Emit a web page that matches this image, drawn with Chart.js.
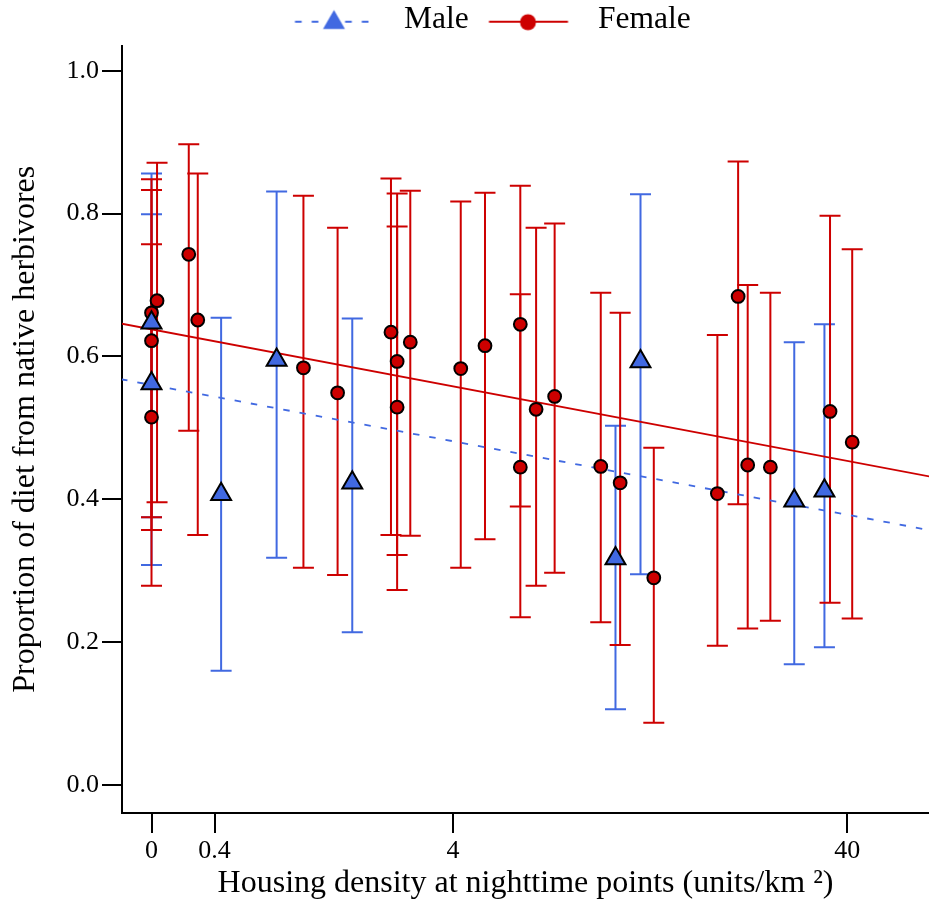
<!DOCTYPE html>
<html>
<head>
<meta charset="utf-8">
<script src="https://cdn.jsdelivr.net/npm/chart.js@4.4.1/dist/chart.umd.min.js"></script>
<style>
  html, body { margin: 0; padding: 0; background: #fff; }
</style>
</head>
<body>
<canvas id="chart" width="929" height="903"></canvas>
<script>
// ====================================================== DATA ====================================================== //

// housing density (units/km2), mean proportion and interval ends
const femaleDensity = [0, 0, 0, 0.03, 0.22, 0.28, 1.25, 1.70, 2.59, 2.71, 2.71, 2.98, 4.21, 4.93,
                       6.16, 6.16, 6.79, 7.60, 10.0, 11.2, 13.6, 19.5, 21.9, 23.1, 26.2, 36.4, 41.1];
const femaleMean    = [0.661, 0.622, 0.515, 0.678, 0.743, 0.651, 0.584, 0.549, 0.634, 0.593, 0.529, 0.620, 0.583, 0.615,
                       0.645, 0.445, 0.526, 0.544, 0.446, 0.423, 0.290, 0.408, 0.684, 0.448, 0.445, 0.523, 0.480];
const femaleLow     = [0.375, 0.357, 0.279, 0.396, 0.496, 0.350, 0.304, 0.294, 0.350, 0.322, 0.273, 0.349, 0.304, 0.344,
                       0.390, 0.235, 0.279, 0.297, 0.228, 0.196, 0.087, 0.195, 0.393, 0.219, 0.230, 0.255, 0.233];
const femaleHigh    = [0.848, 0.833, 0.757, 0.871, 0.897, 0.856, 0.825, 0.780, 0.849, 0.828, 0.782, 0.832, 0.817, 0.829,
                       0.839, 0.687, 0.780, 0.786, 0.689, 0.661, 0.472, 0.630, 0.873, 0.700, 0.689, 0.797, 0.750];

const maleDensity = [0, 0, 0.45, 0.95, 1.92, 10.9, 12.6, 29.9, 35.3];
const maleMean    = [0.647, 0.562, 0.407, 0.595, 0.423, 0.317, 0.593, 0.398, 0.412];
const maleLow     = [0.375, 0.308, 0.160, 0.318, 0.214, 0.106, 0.295, 0.169, 0.193];
const maleHigh    = [0.856, 0.799, 0.654, 0.831, 0.653, 0.503, 0.827, 0.620, 0.645];

// fitted lines, end points (density, proportion)
const femaleFitDensity = [-0.15, 65];
const femaleFitValue   = [0.646, 0.430];
const maleFitDensity   = [-0.15, 65];
const maleFitValue     = [0.568, 0.355];

const xTickValues = [0, 0.4, 4, 40];
const yTickValues = [0, 0.2, 0.4, 0.6, 0.8, 1.0];

// ===================================================== STYLE ====================================================== //

const red = '#CD0000', blue = '#4169E1';
const pos = d => Math.log10(d + 1);          // axis is log10(density + 1)
const pts = (xs, ys) => xs.map((d, i) => ({x: pos(d), y: ys[i]}));

Chart.defaults.font.family = "'Liberation Serif', 'Times New Roman', serif";
Chart.defaults.color = '#000';

// legend symbols: line with marker
function legendIcon(draw) {
  const c = document.createElement('canvas');
  c.width = 110; c.height = 30;
  draw(c.getContext('2d'));
  return c;
}
const maleIcon = legendIcon(g => {
  g.strokeStyle = blue; g.lineWidth = 2; g.setLineDash([6.7, 10]);
  g.beginPath(); g.moveTo(16.5, 17); g.lineTo(90, 17); g.stroke();
  const r = 12.7, cx = 55.5, cy = 18;
  g.fillStyle = blue;
  g.beginPath();
  g.moveTo(cx, cy - r);
  g.lineTo(cx + r * Math.sqrt(3) / 2, cy + r / 2);
  g.lineTo(cx - r * Math.sqrt(3) / 2, cy + r / 2);
  g.closePath(); g.fill();
});
const femaleIcon = legendIcon(g => {
  g.strokeStyle = red; g.lineWidth = 2;
  g.beginPath(); g.moveTo(16.5, 17); g.lineTo(95.5, 17); g.stroke();
  g.fillStyle = red;
  g.beginPath(); g.arc(55.5, 17.5, 8, 0, Math.PI * 2); g.fill();
});

// error bars drawn under the markers through the chart scales
const errorGroups = [
  {color: blue, density: maleDensity,   low: maleLow,   high: maleHigh},
  {color: red,  density: femaleDensity, low: femaleLow, high: femaleHigh}
];
const errorBars = {
  id: 'errorBars',
  beforeDatasetsDraw(chart) {
    const {ctx, scales: {x, y}} = chart, cap = 10.5;
    ctx.save();
    ctx.lineWidth = 2;
    errorGroups.forEach(g => {
      ctx.strokeStyle = g.color;
      g.density.forEach((d, i) => {
        const px = x.getPixelForValue(pos(d)),
              lo = y.getPixelForValue(g.low[i]),
              hi = y.getPixelForValue(g.high[i]);
        ctx.beginPath();
        ctx.moveTo(px, lo); ctx.lineTo(px, hi);
        ctx.moveTo(px - cap, lo); ctx.lineTo(px + cap, lo);
        ctx.moveTo(px - cap, hi); ctx.lineTo(px + cap, hi);
        ctx.stroke();
      });
    });
    ctx.restore();
  }
};

// ===================================================== CHART ====================================================== //

const axisLine = {display: true, color: '#000', width: 2};
const tickMarks = {drawOnChartArea: false, drawTicks: true, tickLength: 20, tickColor: '#000', tickWidth: 2, color: '#000', lineWidth: 2};
const padLeft = 40.4;

new Chart(document.getElementById('chart'), {
  type: 'scatter',
  data: {
    datasets: [
      {label: 'Male', data: pts(maleDensity, maleMean), pointStyle: 'triangle', pointRadius: 11.5,
       backgroundColor: blue, borderColor: '#000', borderWidth: 2, order: 0},
      {label: 'Female', data: pts(femaleDensity, femaleMean), pointStyle: 'circle', pointRadius: 6.4,
       backgroundColor: red, borderColor: '#000', borderWidth: 2, order: 1},
      {label: 'Male fit', data: pts(maleFitDensity, maleFitValue), showLine: true, pointRadius: 0,
       borderColor: blue, borderWidth: 1.8, borderDash: [6.5, 10], order: 2},
      {label: 'Female fit', data: pts(femaleFitDensity, femaleFitValue), showLine: true, pointRadius: 0,
       borderColor: red, borderWidth: 1.8, order: 2}
    ]
  },
  options: {
    responsive: false,
    animation: false,
    events: [],
    layout: {autoPadding: false, padding: {left: padLeft, top: 0, right: 0, bottom: 0}},
    plugins: {
      tooltip: {enabled: false},
      legend: {
        position: 'top',
        labels: {
          usePointStyle: true,
          pointStyleWidth: 109.5,
          padding: 4,
          font: {size: 31.5},
          color: '#000',
          generateLabels: () => [
            {text: 'Male',   pointStyle: maleIcon,   hidden: false, lineWidth: 0, fontColor: '#000', datasetIndex: 0},
            {text: 'Female', pointStyle: femaleIcon, hidden: false, lineWidth: 0, fontColor: '#000', datasetIndex: 1}
          ]
        }
      }
    },
    scales: {
      x: {
        type: 'linear',
        min: -0.0684,
        max: 1.8023,
        afterBuildTicks: s => { s.ticks = xTickValues.map(v => ({value: pos(v)})); },
        afterFit: s => { s.height = 90; s.paddingLeft = 0; s.paddingRight = 0; },
        ticks: {autoSkip: false, maxRotation: 0, padding: 3, font: {size: 26},
                callback: (v, i) => String(xTickValues[i])},
        grid: tickMarks,
        border: axisLine,
        title: {display: true, text: 'Housing density at nighttime points (units/km ²)',
                font: {size: 32}, padding: {top: 0, bottom: 0}}
      },
      y: {
        min: -0.0392,
        max: 1.0353,
        afterBuildTicks: s => { s.ticks = yTickValues.map(v => ({value: v})); },
        afterFit: s => { s.width = 122 - padLeft; s.paddingTop = 0; s.paddingBottom = 0; },
        ticks: {autoSkip: false, padding: 3, font: {size: 26}, callback: v => v.toFixed(1)},
        grid: tickMarks,
        border: axisLine,
        title: {display: true, text: 'Proportion of diet from native herbivores',
                font: {size: 32}, padding: {top: 26 - 19.2 - padLeft, bottom: 0}}
      }
    }
  },
  plugins: [errorBars]
});
</script>
</body>
</html>
